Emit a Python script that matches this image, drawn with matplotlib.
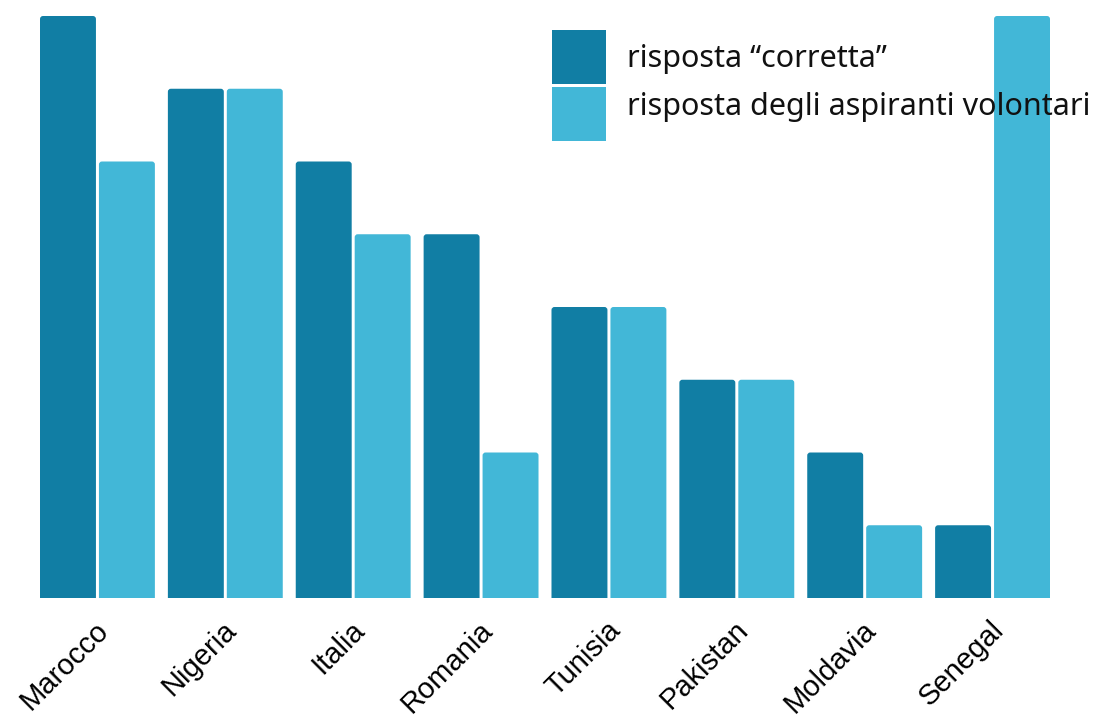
import matplotlib
matplotlib.use("Agg")
import matplotlib.pyplot as plt
from matplotlib.patches import FancyBboxPatch, Rectangle
from matplotlib.transforms import ScaledTranslation
import numpy as np

countries = ["Marocco", "Nigeria", "Italia", "Romania", "Tunisia", "Pakistan", "Moldavia", "Senegal"]
correct = [8, 7, 6, 5, 4, 3, 2, 1]
volunteers = [6, 7, 5, 2, 4, 3, 1, 8]
series_labels = ["risposta \u201ccorretta\u201d", "risposta degli aspiranti volontari"]

dark = "#117EA4"
light = "#42B7D7"

W, H = 1093, 718
fig = plt.figure(figsize=(W / 100, H / 100), dpi=100)
ax = fig.add_axes([40 / W, (H - 598) / H, (1050 - 40) / W, (598 - 16) / H])

bar_w = 56 / 128
gap = 3 / 128
x = np.arange(len(countries))
xlim = (x[0] - bar_w - gap / 2, x[-1] + bar_w + gap / 2)
ax.set_xlim(*xlim)
ax.set_ylim(0, 8)

# rounded tops: rounding expressed in x units, aspect converts to y units
px_x = (xlim[1] - xlim[0]) / 1010
px_y = 8 / 582
r = 3 * px_x
aspect = px_y / px_x


def rounded_bar(xl, h, color):
    p = FancyBboxPatch((xl, -0.2), bar_w, h + 0.2,
                       boxstyle=f"round,pad=0,rounding_size={r}",
                       mutation_aspect=aspect, facecolor=color,
                       edgecolor="none", clip_on=True)
    ax.add_patch(p)
    p.set_clip_path(ax.patch)


for xi, c, v in zip(x, correct, volunteers):
    rounded_bar(xi - gap / 2 - bar_w, c, dark)
    rounded_bar(xi + gap / 2, v, light)

# category labels, rotated and anchored at their upper-right corner
ax.set_xticks([])
ax.set_yticks([])
offset = ScaledTranslation(-3 / 100, -18 / 100, fig.dpi_scale_trans)
for xi, name in zip(x, countries):
    ax.text(xi, 0, name, transform=ax.get_xaxis_transform() + offset,
            rotation=45, ha="right", va="top", rotation_mode="anchor",
            fontsize=21, family="Liberation Sans", color="black",
            clip_on=False)
for s in ax.spines.values():
    s.set_visible(False)

# legend: squares and labels placed in figure pixel coordinates
def fx(px):
    return px / W


def fy(py):
    return 1 - py / H


legend_rows = [(dark, 30, 66.7), (light, 87, 115.5)]
for (color, top, base), text in zip(legend_rows, series_labels):
    fig.patches.append(Rectangle((fx(552), fy(top + 54)), 54 / W, 54 / H,
                                 transform=fig.transFigure, facecolor=color,
                                 edgecolor="none"))
    fig.text(fx(627), fy(base), text, ha="left", va="baseline",
             fontsize=22, family="Noto Sans", color="#111111")

fig.savefig("out.png", dpi=100)
